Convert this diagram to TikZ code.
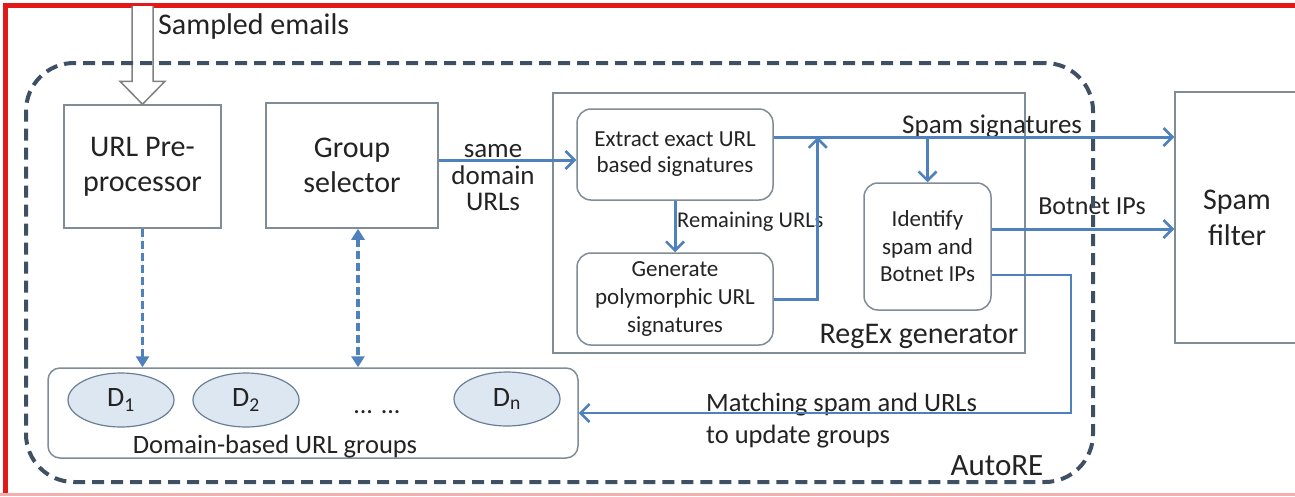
\documentclass[tikz,border=0pt]{standalone}
\usepackage{fontspec}
\setmainfont{Carlito}
\usetikzlibrary{shapes}
\usetikzlibrary{arrows.meta}
\usetikzlibrary{positioning}
\usetikzlibrary{calc}

\definecolor{lineblue}{RGB}{79,129,189}
\definecolor{boxgray}{RGB}{128,140,150}
\definecolor{autoslate}{RGB}{64,80,100}
\definecolor{grpfill}{RGB}{221,231,242}
\definecolor{grpdraw}{RGB}{105,125,150}
\definecolor{txtgray}{RGB}{35,35,35}
\definecolor{framered}{RGB}{225,25,25}

\begin{document}
\begin{tikzpicture}[x=1pt,y=-1pt]
	\tikzset{block/.style = {shape=rectangle, draw=boxgray, line width=1.5pt,
			text=txtgray, align=center, inner sep=0pt}}
	\tikzset{rblock/.style = {block, rounded corners=14pt}}
	\tikzset{dgroup/.style = {shape=ellipse, draw=grpdraw, fill=grpfill,
			line width=1.2pt, minimum width=106pt, minimum height=54pt,
			inner sep=0pt, text=txtgray, font=\fontsize{28}{30}\selectfont}}
	\tikzset{lbl/.style = {text=txtgray, inner sep=0pt, align=center}}
	\tikzset{edge/.style = {-{Straight Barb[length=9pt,width=18pt,line width=2.5pt]},
			draw=lineblue, line width=3pt}}
	\tikzset{thinedge/.style = {edge, line width=1.8pt}}
	\tikzset{dashedge/.style = {-{Triangle[length=11pt,width=13pt]}, draw=lineblue,
			fill=lineblue, line width=3.8pt, dash pattern=on 8pt off 4pt}}
	\tikzset{hollow/.style = {draw=gray, fill=white, line width=1.5pt, line join=miter}}
	\tikzset{autobox/.style = {shape=rectangle, draw=autoslate, line width=4pt,
			dash pattern=on 12pt off 7pt, rounded corners=48pt}}
	
	\useasboundingbox (0,0) rectangle (1295,496);
	\clip (0,0) rectangle (1295,496);
	\fill[white] (0,0) rectangle (1295,496);
	\draw[framered, line width=5pt] (5,496) -- (5,5) -- (1295,5);
	\draw[framered!35, line width=3pt] (0,494.5) -- (1295,494.5);
	
	% vertices
	\node[block, minimum width=157pt, minimum height=123pt,
		font=\fontsize{30}{35}\selectfont] (pre) at (142.5,166.5) {URL Pre-\\processor};
	\node[block, minimum width=172pt, minimum height=125pt,
		font=\fontsize{30}{35}\selectfont] (grp) at (352,165.5) {Group\\selector};
	\node[block, minimum width=472pt, minimum height=260pt] (regex) at (789,223) {};
	\node[rblock, minimum width=196pt, minimum height=91pt,
		font=\fontsize{23}{26}\selectfont] (ext) at (675,154.5) {Extract exact URL\\based signatures};
	\node[rblock, minimum width=196pt, minimum height=92pt,
		font=\fontsize{23}{28}\selectfont] (gen) at (675,299) {Generate\\polymorphic URL\\signatures};
	\node[rblock, minimum width=127pt, minimum height=127pt,
		font=\fontsize{23}{27.5}\selectfont] (ident) at (927.5,246.5) {Identify\\spam and\\Botnet IPs};
	\node[block, minimum width=124pt, minimum height=251pt,
		font=\fontsize{30}{36}\selectfont] (filt) at (1237,217.5) {Spam\\filter};
	\node[block, rounded corners=12pt, minimum width=530pt, minimum height=90pt] (grps) at (313,413) {};
	\node[dgroup] (d1) at (121,400) {D\textsubscript{1}};
	\node[dgroup] (d2) at (246,400) {D\textsubscript{2}};
	\node[dgroup] (dn) at (507,399) {D\textsubscript{n}};
	\node[lbl, font=\fontsize{26}{28}\selectfont] (dots) at (377,412) {... ...};
	
	% labels
	\node[lbl, anchor=west, font=\fontsize{30}{34}\selectfont] (sampled) at (158,26) {Sampled emails};
	\node[lbl, font=\fontsize{27}{26.5}\selectfont] (same) at (493,178) {same\\domain\\URLs};
	\node[lbl, anchor=west, font=\fontsize{22.5}{26}\selectfont] (remain) at (677,222) {Remaining URLs};
	\node[lbl, anchor=west, font=\fontsize{27}{30}\selectfont] (sigtxt) at (902,127) {Spam signatures};
	\node[lbl, font=\fontsize{26}{30}\selectfont] (bottxt) at (1092,206) {Botnet IPs};
	\node[lbl, font=\fontsize{30}{34}\selectfont] (regtxt) at (919,336) {RegEx generator};
	\node[lbl, anchor=west, align=left, font=\fontsize{26.5}{32}\selectfont] (match) at (706,421)
		{Matching spam and URLs\\to update groups};
	\node[lbl, font=\fontsize{26.5}{30}\selectfont] (grptxt) at (275,447) {Domain-based URL groups};
	\node[lbl, font=\fontsize{31}{34}\selectfont] (autotxt) at (997,466) {AutoRE};
	
	%edges
	\coordinate (mailin) at (142.5,6);
	\draw[hollow] ($(mailin)+(-10.5,0)$) -- ($(pre.north)+(-10.5,-23)$)
		-- ($(pre.north)+(-22.5,-23)$) -- (pre.north) -- ($(pre.north)+(22.5,-23)$)
		-- ($(pre.north)+(10.5,-23)$) -- ($(mailin)+(10.5,0)$);
	
	\coordinate (urls) at ($(grp.east)+(0,-5.5)$);
	\coordinate (sig) at ($(ext.east)+(0,-17.5)$);
	\coordinate (bot) at ($(ident.east)+(0,-17.5)$);
	\coordinate (back) at ($(ident.east)+(0,28.5)$);
	
	\draw[edge] (urls) to (urls -| ext.west);
	\draw[edge] (ext.south) to (gen.north);
	\draw[edge] (sig) to (sig -| filt.west);
	\draw[edge] (gen.east) -| ($(sig)+(44,0)$);
	\draw[edge] (sig -| ident.north) to (ident.north);
	\draw[edge] (bot) to (bot -| filt.west);
	\draw[thinedge] (back) -| ($(grps.east)+(492,0)$) -- (grps.east);
	
	\draw[dashedge] (pre.south) to (pre.south |- grps.north);
	\draw[dashedge, {Triangle[length=11pt,width=13pt]}-{Triangle[length=11pt,width=13pt]}]
		([xshift=6pt]grp.south) to ([xshift=6pt]grp.south |- grps.north);
	
	\node[autobox, minimum width=1067pt, minimum height=419pt] (auto) at (559.5,272.5) {};
\end{tikzpicture}
\end{document}
